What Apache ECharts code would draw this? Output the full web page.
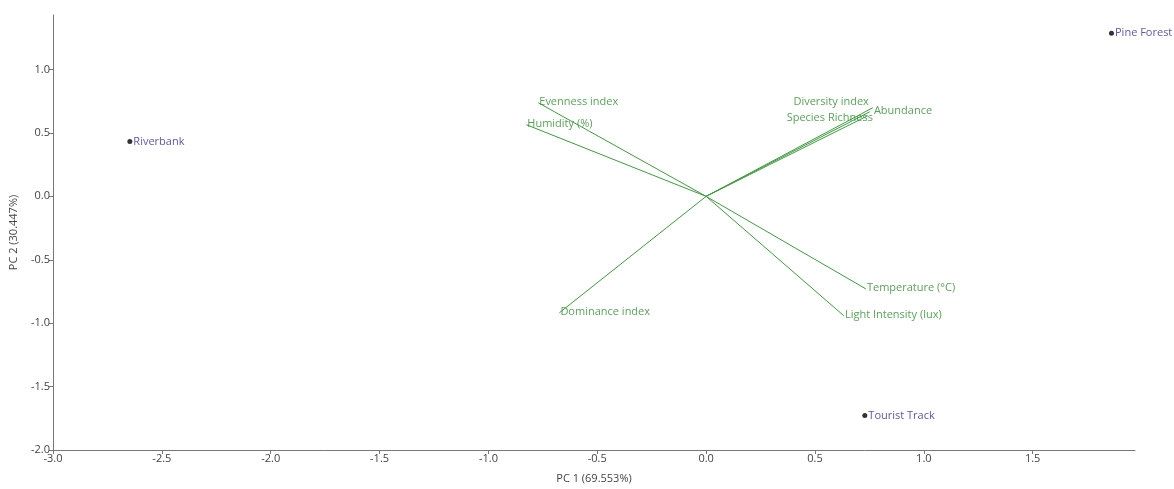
<!DOCTYPE html>
<html><head><meta charset="utf-8">
<script src="https://cdn.jsdelivr.net/npm/echarts@6/dist/echarts.min.js"></script>
<style>html,body{margin:0;padding:0;background:#fff}#c{width:1174px;height:489px}</style>
</head><body><div id="c"></div>
<script>
// Site scores
const siteNames = ['Riverbank', 'Pine Forest', 'Tourist Track'];
const siteX = [-2.647, 1.862, 0.729];
const siteY = [0.432, 1.287, -1.727];
// Variable loadings (vectors from origin)
const varNames = ['Evenness index', 'Humidity (%)', 'Diversity index', 'Species Richness', 'Abundance', 'Temperature (°C)', 'Light Intensity (lux)', 'Dominance index'];
const varX = [-0.771, -0.826, 0.752, 0.743, 0.766, 0.734, 0.633, -0.674];
const varY = [0.738, 0.565, 0.667, 0.636, 0.699, -0.73, -0.942, -0.918];
const xTitle = 'PC 1 (69.553%)';
const yTitle = 'PC 2 (30.447%)';

// label placement (style only)
const labelPlace = {
  'Diversity index': {position: 'left', distance: 1, offset: [0, -10]},
  'Species Richness': {position: 'left', distance: 0, offset: [5, 2]},
  'Abundance': {position: 'right', distance: 1, offset: [0, 3]}
};

const FONT = '"Open Sans", "Noto Sans", sans-serif';
const green = '#3f9a3f';
const series = [];
varNames.forEach((n, i) => {
  series.push({
    type: 'line', data: [[0, 0], [varX[i], varY[i]]], symbol: 'none', silent: true,
    lineStyle: {color: green, width: 1}, animation: false, z: 2
  });
});
series.push({
  type: 'scatter', symbolSize: 0, animation: false, z: 3,
  data: varNames.map((n, i) => {
    const p = labelPlace[n] || {position: 'right', distance: 1, offset: [0, -1]};
    return {value: [varX[i], varY[i]], name: n,
      label: {show: true, formatter: n, position: p.position, distance: p.distance, offset: p.offset}};
  }),
  label: {color: '#2f8a2f', fontFamily: FONT, fontSize: 11}
});
series.push({
  type: 'scatter', symbolSize: 5, itemStyle: {color: '#000'}, animation: false, z: 4,
  data: siteNames.map((n, i) => ({value: [siteX[i], siteY[i]], name: n})),
  label: {show: true, position: 'right', distance: 1, formatter: p => p.name, color: '#2e2e8e', fontFamily: FONT, fontSize: 11}
});

const axisCommon = {
  axisLine: {show: true, onZero: false, lineStyle: {color: '#777', width: 1}},
  axisTick: {show: true, length: 4, lineStyle: {color: '#777'}},
  axisLabel: {color: '#444', fontFamily: FONT, fontSize: 11, formatter: v => v.toFixed(1)},
  splitLine: {show: false},
  nameTextStyle: {color: '#444', fontFamily: FONT, fontSize: 11}
};

const chart = echarts.init(document.getElementById('c'));
chart.setOption({
  backgroundColor: '#fff',
  grid: {left: 51, top: 15, right: 39, bottom: 37, containLabel: false},
  xAxis: Object.assign({}, axisCommon, {type: 'value', min: -3, max: 1.97, interval: 0.5,
    name: xTitle, nameLocation: 'middle', nameGap: 23,
    axisLabel: Object.assign({}, axisCommon.axisLabel, {margin: 3, showMaxLabel: false})}),
  yAxis: Object.assign({}, axisCommon, {type: 'value', min: -2, max: 1.43, interval: 0.5,
    name: yTitle, nameLocation: 'middle', nameGap: 34,
    axisLabel: Object.assign({}, axisCommon.axisLabel, {margin: 3, showMaxLabel: false})}),
  series: series
});
</script></body></html>
